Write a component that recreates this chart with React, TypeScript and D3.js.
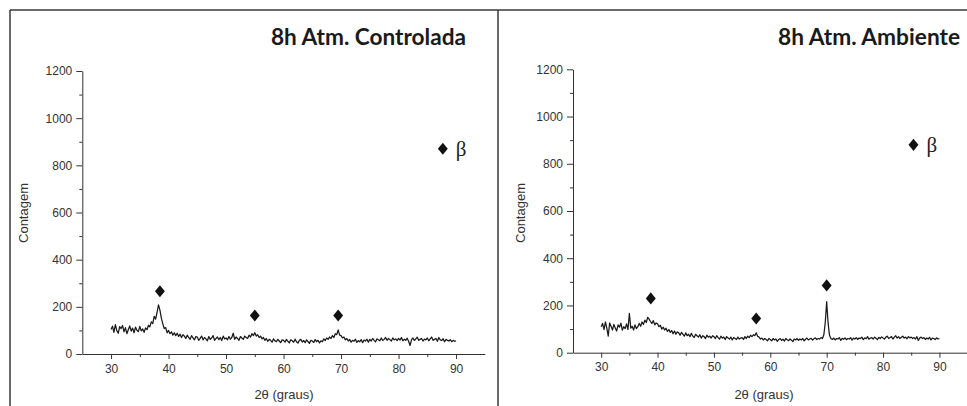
import React, { useEffect, useRef } from "react";
import * as d3 from "d3";

// sampling grid of the diffractograms (2theta, degrees)
const angleStart = 30;
const angleStep = 0.25;

const xTicks = [30, 40, 50, 60, 70, 80, 90];
const xMinorTicks = [35, 45, 55, 65, 75, 85];
const yTicks = [0, 200, 400, 600, 800, 1000, 1200];
const yMinorTicks = [100, 300, 500, 700, 900, 1100];

const titles = ["8h Atm. Controlada", "8h Atm. Ambiente"];

// counts, one value every 0.25 deg from 30 to 90
const controladaCounts = [
  104, 118, 92, 125, 99, 88, 116, 108, 121, 94, 112, 86, 103, 119, 97, 110, 90, 114, 101, 95,
  117, 98, 106, 92, 111, 103, 122, 115, 136, 129, 160, 148, 176, 208, 186, 152, 128, 108, 112, 90,
  100, 86, 94, 80, 90, 78, 88, 74, 84, 70, 82, 76, 66, 80, 70, 62, 78, 68, 60, 74,
  72, 58, 66, 76, 60, 70, 64, 56, 74, 62, 68, 78, 58, 66, 72, 61, 70, 57, 76, 64,
  68, 60, 74, 63, 70, 88, 62, 72, 66, 58, 74, 68, 62, 76, 70, 66, 80, 72, 86, 78,
  90, 76, 82, 70, 76, 64, 70, 58, 66, 54, 62, 58, 50, 64, 56, 52, 62, 55, 48, 60,
  58, 50, 62, 54, 47, 60, 56, 50, 63, 52, 46, 58, 62, 51, 57, 48, 60, 53, 45, 58,
  55, 49, 61, 53, 58, 47, 56, 52, 64, 57, 68, 62, 72, 66, 78, 70, 86, 82, 102, 80,
  78, 68, 72, 60, 66, 55, 62, 50, 58, 54, 63, 49, 57, 52, 61, 48, 59, 55, 63, 50,
  62, 55, 66, 58, 52, 64, 60, 56, 68, 57, 62, 70, 58, 66, 61, 55, 68, 60, 64, 57,
  66, 59, 70, 56, 63, 58, 67, 54, 36, 60, 68, 57, 64, 71, 58, 62, 66, 55, 63, 60,
  68, 56, 64, 72, 58, 62, 66, 54, 70, 60, 57, 65, 52, 62, 58, 55, 61, 52, 58, 54,
  56,
];

const ambienteCounts = [
  110, 124, 98, 130, 104, 70, 126, 112, 96, 120, 104, 92, 118, 108, 125, 96, 110, 102, 122, 98,
  166, 104, 112, 96, 118, 102, 110, 124, 112, 130, 120, 138, 128, 150, 142, 132, 124, 136, 118, 126,
  122, 110, 116, 100, 108, 96, 104, 90, 98, 86, 94, 80, 92, 78, 88, 84, 74, 86, 78, 70,
  84, 72, 78, 68, 82, 70, 64, 78, 72, 66, 76, 62, 72, 68, 60, 74, 66, 70, 62, 72,
  68, 60, 72, 64, 58, 70, 62, 66, 56, 68, 62, 58, 66, 54, 64, 60, 56, 66, 58, 62,
  64, 56, 68, 60, 70, 64, 74, 68, 76, 72, 84, 70, 66, 58, 62, 54, 60, 56, 50, 60,
  56, 50, 60, 54, 58, 48, 56, 60, 52, 57, 49, 60, 55, 51, 58, 53, 47, 58, 54, 60,
  52, 58, 54, 60, 50, 57, 62, 54, 58, 61, 53, 59, 63, 56, 60, 58, 64, 60, 76, 128,
  216, 126, 74, 60, 56, 62, 54, 60, 58, 64, 52, 61, 57, 63, 55, 60, 58, 64, 53, 62,
  58, 64, 56, 62, 60, 66, 55, 63, 59, 68, 57, 62, 64, 58, 66, 61, 56, 65, 60, 67,
  62, 58, 66, 70, 60, 64, 68, 58, 66, 72, 62, 68, 60, 65, 70, 62, 66, 59, 68, 63,
  66, 60, 64, 58, 68, 52, 62, 66, 60, 64, 56, 62, 58, 65, 54, 62, 60, 56, 63, 58,
  60,
];

// beta phase markers [2theta, counts]
const controladaPeaks = [[38.5, 266], [55, 163], [69.5, 163]];
const ambientePeaks = [[38.8, 230], [57.5, 145], [70, 285]];

// legend anchor in data units
const controladaLegend = [87.7, 870];
const ambienteLegend = [85.4, 880];

const panels = [
  { title: titles[0], counts: controladaCounts, peaks: controladaPeaks, legend: controladaLegend,
    left: 82.3, right: 484.8, top: 71, bottom: 354, yLabelX: 23, titleRight: 466, titleWidth: 195, xLabelX: 284 },
  { title: titles[1], counts: ambienteCounts, peaks: ambientePeaks, legend: ambienteLegend,
    left: 573, right: 967.6, top: 69.3, bottom: 352.7, yLabelX: 520, titleRight: 960, titleWidth: 182, xLabelX: 764 },
];

const W = 967;
const H = 406;

// rhombus a little taller than wide, like the Origin marker
const rhombus = {
  draw(ctx: any, size: number) {
    const h = Math.sqrt(size) * 0.78;
    const w = h * 0.82;
    ctx.moveTo(0, -h);
    ctx.lineTo(w, 0);
    ctx.lineTo(0, h);
    ctx.lineTo(-w, 0);
    ctx.closePath();
  },
};
const diamond = d3.symbol().type(rhombus as any).size(60);

const Panel = ({ p }: { p: any }) => {
  const gx = useRef<SVGGElement>(null);
  const gxm = useRef<SVGGElement>(null);
  const gy = useRef<SVGGElement>(null);
  const gym = useRef<SVGGElement>(null);

  const x = d3.scaleLinear().domain([25, 95]).range([p.left, p.right]);
  const y = d3.scaleLinear().domain([0, 1200]).range([p.bottom, p.top]);

  useEffect(() => {
    const style = (g: any) => {
      g.selectAll("path, line").attr("stroke", "#333").attr("stroke-width", 1);
      g.selectAll("text")
        .attr("fill", "#333")
        .style("font-family", "'Liberation Sans', Arial, sans-serif")
        .style("font-size", "12px");
    };
    d3.select(gx.current!)
      .call(d3.axisBottom(x).tickValues(xTicks).tickFormat(d3.format("d")).tickSize(5).tickSizeOuter(0).tickPadding(5))
      .call(style);
    d3.select(gxm.current!)
      .call(d3.axisBottom(x).tickValues(xMinorTicks).tickSize(3).tickFormat(() => ""))
      .call((g) => g.select(".domain").remove())
      .call(style);
    d3.select(gy.current!)
      .call(d3.axisLeft(y).tickValues(yTicks).tickFormat(d3.format("d")).tickSize(6).tickSizeOuter(0).tickPadding(4))
      .call(style);
    d3.select(gym.current!)
      .call(d3.axisLeft(y).tickValues(yMinorTicks).tickSize(3).tickFormat(() => ""))
      .call((g) => g.select(".domain").remove())
      .call(style);
  }, []);

  const line = d3
    .line<number>()
    .x((_, i) => x(angleStart + i * angleStep))
    .y((d) => y(d));

  return (
    <g>
      <text
        x={p.titleRight}
        y={45}
        textAnchor="end"
        textLength={p.titleWidth}
        lengthAdjust="spacingAndGlyphs"
        style={{ fontFamily: "Lato, 'Open Sans', sans-serif", fontWeight: 700, fontSize: 22 }}
        fill="#1a1a1a"
      >
        {p.title}
      </text>
      <path d={line(p.counts) || ""} fill="none" stroke="#1a1a1a" strokeWidth={1.25} strokeLinejoin="round" />
      <g ref={gxm} transform={`translate(0,${y(0)})`} />
      <g ref={gx} transform={`translate(0,${y(0)})`} />
      <g ref={gym} transform={`translate(${x(25)},0)`} />
      <g ref={gy} transform={`translate(${x(25)},0)`} />
      {p.peaks.map((d: number[], i: number) => (
        <path key={i} d={diamond() || ""} transform={`translate(${x(d[0])},${y(d[1])})`} fill="#111" />
      ))}
      <path d={diamond() || ""} transform={`translate(${x(p.legend[0])},${y(p.legend[1])})`} fill="#111" />
      <text
        x={x(p.legend[0]) + 13}
        y={y(p.legend[1]) + 7}
        style={{ fontFamily: "'Liberation Serif', 'DejaVu Serif', serif", fontSize: 21 }}
        fill="#222"
      >
        β
      </text>
      <text
        transform={`translate(${p.yLabelX},${213}) rotate(-90)`}
        textAnchor="middle"
        dy="0.35em"
        style={{ fontFamily: "'Liberation Sans', Arial, sans-serif", fontSize: 13 }}
        fill="#333"
      >
        Contagem
      </text>
      <text
        x={p.xLabelX}
        y={399}
        textAnchor="middle"
        style={{ fontFamily: "'Liberation Sans', Arial, sans-serif", fontSize: 13 }}
        fill="#333"
      >
        2θ (graus)
      </text>
    </g>
  );
};

export default function App() {
  return (
    <div style={{ position: "absolute", left: 0, top: 0 }}>
      <svg width={W} height={H} style={{ display: "block", background: "#fff" }}>
        <rect width={W} height={H} fill="#fff" />
        <line x1={10} y1={10} x2={W} y2={10} stroke="#3a3a3a" strokeWidth={1.5} />
        <line x1={10} y1={10} x2={10} y2={H} stroke="#3a3a3a" strokeWidth={1.5} />
        <line x1={498} y1={10} x2={498} y2={H} stroke="#3a3a3a" strokeWidth={1.5} />
        {panels.map((p, i) => (
          <Panel key={i} p={p} />
        ))}
      </svg>
    </div>
  );
}
